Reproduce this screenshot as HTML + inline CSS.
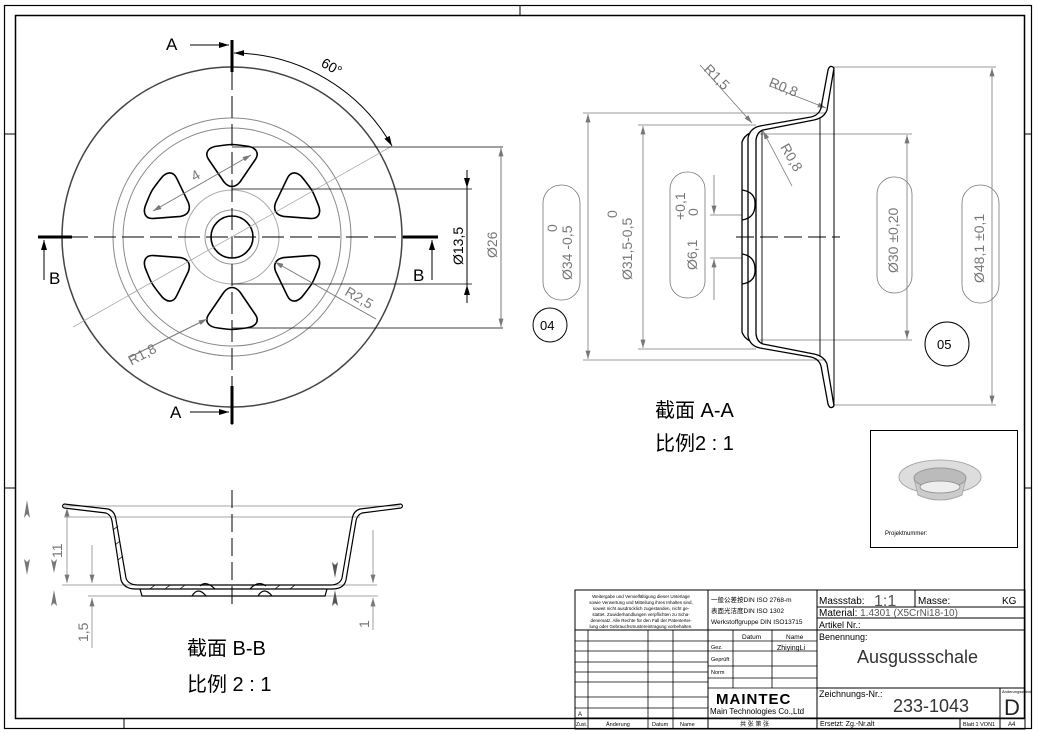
<!DOCTYPE html>
<html><head><meta charset="utf-8"><style>
html,body{margin:0;padding:0;background:#fff}
svg{display:block}
text{font-family:"Liberation Sans","Noto Sans CJK SC",sans-serif}
</style></head><body>
<svg width="1038" height="733" viewBox="0 0 1038 733" xmlns="http://www.w3.org/2000/svg">
<defs>
<marker id="ag" viewBox="0 0 10 6" refX="10" refY="3" markerWidth="12" markerHeight="5" orient="auto-start-reverse" markerUnits="userSpaceOnUse"><path d="M0,0 L10,3 L0,6 Z" fill="#777"/></marker>
<marker id="ak" viewBox="0 0 10 6" refX="10" refY="3" markerWidth="14" markerHeight="6" orient="auto-start-reverse" markerUnits="userSpaceOnUse"><path d="M0,0 L10,3 L0,6 Z" fill="#000"/></marker>
<path id="hole" d="M-14,-21 C0,-23 0,-23 14,-21 C24,-20 28,-14 23,-7 L8,15 C3,21 -3,21 -8,15 L-23,-7 C-28,-14 -24,-20 -14,-21 Z" fill="none" stroke="#000" stroke-width="1.6"/>
</defs>
<rect x="4.5" y="5.5" width="1027" height="723" fill="none" stroke="#000" stroke-width="1.2"/>
<rect x="15.5" y="15.5" width="1009" height="703" fill="none" stroke="#000" stroke-width="1.5"/>
<g stroke="#000" stroke-width="1"><line x1="4" y1="134" x2="15" y2="134"/><line x1="4" y1="488" x2="15" y2="488"/><line x1="1025" y1="134" x2="1032" y2="134"/><line x1="1025" y1="488" x2="1032" y2="488"/><line x1="124" y1="718" x2="124" y2="729"/><line x1="520" y1="5" x2="520" y2="15"/></g>

<g fill="none">
<circle cx="232" cy="237" r="170" stroke="#444" stroke-width="1.5"/>
<circle cx="232" cy="237" r="119" stroke="#888" stroke-width="1"/>
<circle cx="232" cy="237" r="109" stroke="#888" stroke-width="1"/>
<circle cx="232" cy="237" r="47" stroke="#aaa" stroke-width="1"/>
<circle cx="232" cy="237" r="27" stroke="#999" stroke-width="1"/>
<circle cx="232" cy="237" r="21" stroke="#000" stroke-width="1.6"/>
<g transform="translate(232,237)">
<use href="#hole" transform="translate(0,-70)"/>
<use href="#hole" transform="rotate(60) translate(0,-70)"/>
<use href="#hole" transform="rotate(120) translate(0,-70)"/>
<use href="#hole" transform="rotate(180) translate(0,-70)"/>
<use href="#hole" transform="rotate(240) translate(0,-70)"/>
<use href="#hole" transform="rotate(300) translate(0,-70)"/>
</g>
<line x1="38" y1="237" x2="438" y2="237" stroke="#000" stroke-width="1" stroke-dasharray="22,6"/>
<line x1="232" y1="40" x2="232" y2="425" stroke="#000" stroke-width="1" stroke-dasharray="22,6"/>
<g stroke="#000" stroke-width="3"><line x1="232" y1="40" x2="232" y2="72"/><line x1="232" y1="386" x2="232" y2="424"/><line x1="38" y1="237" x2="72" y2="237"/><line x1="403" y1="237" x2="438" y2="237"/></g>
<g stroke="#000" stroke-width="1"><line x1="190" y1="45" x2="229" y2="45" marker-end="url(#ak)"/><line x1="190" y1="412" x2="229" y2="412" marker-end="url(#ak)"/><line x1="44" y1="280" x2="44" y2="240" marker-end="url(#ak)"/><line x1="432" y1="280" x2="432" y2="240" marker-end="url(#ak)"/></g>
<path d="M234,53 A184,184 0 0 1 392,146" stroke="#000" stroke-width="1" marker-start="url(#ak)" marker-end="url(#ak)"/>
<line x1="73" y1="327" x2="392" y2="146" stroke="#aaa" stroke-width="0.8"/>
<line x1="153" y1="211" x2="251" y2="155" stroke="#777" stroke-width="1" marker-start="url(#ag)" marker-end="url(#ag)"/>
<line x1="130" y1="357" x2="207" y2="319" stroke="#777" stroke-width="1" marker-end="url(#ag)"/>
<line x1="376" y1="319" x2="275" y2="262" stroke="#777" stroke-width="1" marker-end="url(#ag)"/>
<g stroke="#000" stroke-width="0.8"><line x1="232" y1="147" x2="503" y2="147"/><line x1="232" y1="328" x2="503" y2="328"/><line x1="232" y1="189" x2="472" y2="189"/><line x1="232" y1="284" x2="472" y2="284"/></g>
<line x1="467" y1="170" x2="467" y2="303" stroke="#000" stroke-width="1"/>
<line x1="467" y1="170" x2="467" y2="188" stroke="#000" marker-end="url(#ak)"/>
<line x1="467" y1="303" x2="467" y2="285" stroke="#000" marker-end="url(#ak)"/>
<line x1="501" y1="148" x2="501" y2="327" stroke="#777" stroke-width="1" marker-start="url(#ag)" marker-end="url(#ag)"/>
</g>
<g font-size="17" fill="#000"><text x="166" y="50">A</text><text x="170" y="418">A</text><text x="49" y="284">B</text><text x="413" y="281">B</text></g>
<text x="320" y="70" font-size="14" transform="rotate(30 328 68)">60°</text>
<text x="192" y="180" font-size="14" fill="#777" transform="rotate(-30 196 176)">4</text>
<text x="126" y="360" font-size="14" fill="#777" transform="rotate(-28 140 352)">R1,8</text>
<text x="344" y="302" font-size="14" fill="#777" transform="rotate(30 358 298)">R2,5</text>
<text font-size="14" fill="#000" transform="translate(463,265) rotate(-90)">Ø13,5</text>
<text font-size="14" fill="#777" transform="translate(497,258) rotate(-90)">Ø26</text>

<g fill="none">
<g stroke="#888" stroke-width="0.8">
<line x1="64" y1="506" x2="400" y2="506"/><line x1="64" y1="517" x2="360" y2="517"/><line x1="62" y1="585" x2="377" y2="585"/><line x1="88" y1="596" x2="378" y2="596"/>
<line x1="67" y1="508" x2="67" y2="583" marker-start="url(#ag)" marker-end="url(#ag)"/>
<line x1="92" y1="545" x2="92" y2="583" marker-end="url(#ag)"/><line x1="92" y1="648" x2="92" y2="598" marker-end="url(#ag)"/>
<line x1="373" y1="530" x2="373" y2="583" marker-end="url(#ag)"/><line x1="373" y1="630" x2="373" y2="598" marker-end="url(#ag)"/>
</g>
<g fill="#777" stroke="none">
<path d="M27,500 L24,518 L27,514 L30,518 Z"/><path d="M27,575 L24,559 L27,562 L30,559 Z"/>
<path d="M54,573 L51,559 L54,562 L57,559 Z"/><path d="M54,590 L51,606 L54,603 L57,606 Z"/>
<path d="M335,578 L332,562 L335,565 L338,562 Z" fill="#555"/><path d="M335,590 L332,606 L335,603 L338,606 Z" fill="#555"/>
</g>
<path d="M64,504 L108,509 Q115,511 116,520 L126,578 Q128,585 138,585 L330,585 Q340,585 342,578 L352,520 Q353,511 360,509 L401,504" stroke="#000" stroke-width="1.2"/>
<path d="M64,508 L106,513 Q111,515 112,521 L121,580 Q124,589 136,589 L332,589 Q344,589 346,580 L356,521 Q357,515 362,513 L401,508" stroke="#000" stroke-width="1.2"/>
<path d="M64,504 Q61,506 64,508 M401,504 Q404,506 401,508" stroke="#000" stroke-width="1.2"/>
<g stroke="#000" stroke-width="0.8"><line x1="113" y1="530" x2="118" y2="526"/><line x1="115" y1="545" x2="120" y2="541"/><line x1="118" y1="560" x2="123" y2="556"/><line x1="150" y1="589" x2="155" y2="585"/><line x1="165" y1="589" x2="170" y2="585"/><line x1="180" y1="589" x2="185" y2="585"/><line x1="275" y1="589" x2="280" y2="585"/><line x1="290" y1="589" x2="295" y2="585"/></g>
<path d="M140,589 L142,596 L325,596 L327,589" stroke="#000" stroke-width="1.2"/>
<path d="M192,596 Q198,586 206,596 M258,596 Q264,586 272,596 M200,586 Q206,580 215,589 M250,589 Q258,580 266,586" stroke="#000" stroke-width="1.2"/>
<line x1="232" y1="490" x2="232" y2="610" stroke="#000" stroke-width="1" stroke-dasharray="18,6"/>
</g>
<text font-size="14" fill="#777" transform="translate(62,558) rotate(-90)">11</text>
<text font-size="14" fill="#777" transform="translate(88,642) rotate(-90)">1,5</text>
<text font-size="14" fill="#777" transform="translate(369,628) rotate(-90)">1</text>
<text x="187" y="655" font-size="20" fill="#000">截面 B-B</text>
<text x="187" y="691" font-size="20" fill="#000">比例 2 : 1</text>

<g fill="none">
<g stroke="#777" stroke-width="0.8">
<line x1="583" y1="113" x2="826" y2="113"/><line x1="583" y1="360" x2="826" y2="360"/>
<line x1="638" y1="125" x2="756" y2="125"/><line x1="638" y1="349" x2="756" y2="349"/>
<line x1="710" y1="215" x2="742" y2="215"/><line x1="710" y1="258" x2="742" y2="258"/>
<line x1="760" y1="134" x2="912" y2="134"/><line x1="760" y1="340" x2="912" y2="340"/>
<line x1="834" y1="67" x2="996" y2="67"/><line x1="834" y1="405" x2="996" y2="405"/>
<line x1="588" y1="114" x2="588" y2="359" marker-start="url(#ag)" marker-end="url(#ag)"/>
<line x1="643" y1="126" x2="643" y2="348" marker-start="url(#ag)" marker-end="url(#ag)"/>
<line x1="714" y1="175" x2="714" y2="214" marker-end="url(#ag)"/><line x1="714" y1="300" x2="714" y2="259" marker-end="url(#ag)"/>
<line x1="907" y1="135" x2="907" y2="339" marker-start="url(#ag)" marker-end="url(#ag)"/>
<line x1="992" y1="68" x2="992" y2="404" marker-start="url(#ag)" marker-end="url(#ag)"/>
<line x1="700" y1="65" x2="752" y2="123" marker-end="url(#ag)"/>
<line x1="770" y1="86" x2="826" y2="108" marker-end="url(#ag)"/>
<line x1="792" y1="186" x2="763" y2="131" marker-end="url(#ag)"/>
<rect x="543" y="185" width="37" height="115" rx="18"/>
<rect x="670" y="172" width="35" height="126" rx="17"/>
<rect x="877" y="177" width="35" height="116" rx="17"/>
<rect x="962" y="185" width="37" height="118" rx="18"/>
</g>
<g id="halfA" stroke="#000" stroke-width="1.3">
<path d="M834,68 Q830,64 828,70 L821,108 Q819,115 811,117 L760,126 Q750,128 748,138 L748,237"/>
<path d="M834,68 L827,110 Q824,118 814,120 L763,130 Q757,132 756,140 L756,237"/>
<path d="M742,237 L742,142 Q744,136 750,133"/>
<path d="M742,190 Q756,192 755,205 Q755,218 742,220"/>
<line x1="762" y1="130" x2="762" y2="237" stroke-width="0.9"/>
<line x1="820" y1="118" x2="820" y2="237" stroke-width="0.9"/>
<line x1="834" y1="68" x2="834" y2="237" stroke-width="1"/>
</g>
<use href="#halfA" transform="translate(0,474) scale(1,-1)"/>
<line x1="736" y1="237" x2="840" y2="237" stroke="#000" stroke-width="1" stroke-dasharray="18,6"/>
<circle cx="550" cy="325" r="17" stroke="#000" stroke-width="1"/>
<circle cx="947" cy="344" r="22" stroke="#000" stroke-width="1"/>
</g>
<g font-size="14" fill="#777">
<text transform="translate(703,70) rotate(45)">R1,5</text>
<text transform="translate(768,86) rotate(22)">R0,8</text>
<text transform="translate(780,147) rotate(60)">R0,8</text>
<text transform="translate(572,280) rotate(-90)">Ø34 -0,5</text>
<text transform="translate(557,232) rotate(-90)">0</text>
<text transform="translate(632,280) rotate(-90)">Ø31,5-0,5</text>
<text transform="translate(617,218) rotate(-90)">0</text>
<text transform="translate(697,270) rotate(-90)">Ø6,1</text>
<text transform="translate(685,220) rotate(-90)">+0,1</text>
<text transform="translate(698,216) rotate(-90)">0</text>
<text transform="translate(898,273) rotate(-90)">Ø30 ±0,20</text>
<text transform="translate(984,283) rotate(-90)">Ø48,1 ±0,1</text>
</g>
<text x="540" y="330" font-size="13" fill="#000">04</text>
<text x="937" y="349" font-size="13" fill="#000">05</text>
<text x="655" y="417" font-size="20" fill="#000">截面 A-A</text>
<text x="655" y="450" font-size="20" fill="#000">比例2 : 1</text>

<rect x="870.5" y="430.5" width="147" height="117" fill="none" stroke="#000" stroke-width="1"/>
<ellipse cx="940" cy="477" rx="41" ry="17" fill="#ddd" stroke="#aaa"/>
<path d="M914,478 L918,495 Q940,505 962,495 L966,478 Z" fill="#ccc" stroke="#aaa"/>
<ellipse cx="940" cy="478" rx="26" ry="10" fill="#bbb" stroke="#999"/>
<ellipse cx="940" cy="487" rx="20" ry="6" fill="#eee" stroke="#999"/>
<text x="885" y="535" font-size="6" fill="#000">Projektnummer:</text>

<g fill="none" stroke="#000" stroke-width="1">
<rect x="575" y="590" width="450" height="139"/>
<line x1="575" y1="630" x2="817" y2="630"/>
<line x1="708" y1="590" x2="708" y2="729"/>
<line x1="817" y1="590" x2="817" y2="729"/>
<line x1="817" y1="607" x2="1025" y2="607"/><line x1="817" y1="618" x2="1025" y2="618"/><line x1="817" y1="630" x2="1025" y2="630"/>
<line x1="915" y1="590" x2="915" y2="607"/>
<line x1="817" y1="688" x2="1025" y2="688"/><line x1="575" y1="718" x2="1025" y2="718"/>
<line x1="1000" y1="688" x2="1000" y2="729"/><line x1="960" y1="718" x2="960" y2="729"/>
<g stroke-width="0.8">
<line x1="575" y1="641" x2="817" y2="641"/><line x1="575" y1="651" x2="817" y2="651"/><line x1="575" y1="662" x2="708" y2="662"/><line x1="708" y1="666" x2="817" y2="666"/><line x1="575" y1="672" x2="708" y2="672"/><line x1="708" y1="678" x2="817" y2="678"/><line x1="575" y1="682" x2="708" y2="682"/><line x1="575" y1="697" x2="708" y2="697"/><line x1="575" y1="708" x2="708" y2="708"/><line x1="708" y1="688" x2="817" y2="688"/>
<line x1="588" y1="630" x2="588" y2="729"/><line x1="648" y1="630" x2="648" y2="729"/><line x1="673" y1="630" x2="673" y2="729"/>
<line x1="733" y1="630" x2="733" y2="688"/><line x1="772" y1="630" x2="772" y2="688"/>
</g>
</g>
<g fill="#000" font-size="4.5" text-anchor="middle">
<text x="641" y="598">Weitergabe und Vervielfältigung dieser Unterlage</text>
<text x="641" y="604">sowie Verwertung und Mitteilung ihres Inhaltes sind,</text>
<text x="641" y="610">soweit nicht ausdrücklich zugestanden, nicht ge-</text>
<text x="641" y="616">stattet. Zuwiderhandlungen verpflichten zu Scha-</text>
<text x="641" y="622">denersatz. Alle Rechte für den Fall der Patentertei-</text>
<text x="641" y="628">lung oder Gebrauchsmustereintragung vorbehalten.</text>
</g>
<g fill="#000" font-size="6.5">
<text x="711" y="602">一般公差按DIN ISO 2768-m</text>
<text x="711" y="613">表面光洁度DIN ISO 1302</text>
<text x="711" y="624">Werkstoffgruppe DIN ISO13715</text>
<text x="742" y="639">Datum</text><text x="786" y="639">Name</text>
<text x="711" y="649" font-size="5.5">Gez.</text><text x="711" y="661" font-size="5.5">Geprüft</text><text x="711" y="674" font-size="5.5">Norm</text>
<text x="777" y="650" font-family="Liberation Mono" font-size="7">ZhiyingLi</text>
<text x="578" y="716" font-size="6">A</text>
<text x="576" y="726" font-size="5">Zust.</text><text x="606" y="726" font-size="5.5">Änderung</text><text x="652" y="726" font-size="5.5">Datum</text><text x="680" y="726" font-size="5.5">Name</text>
<text x="740" y="726" font-size="6">共 张 第 张</text>
<text x="820" y="726" font-size="7">Ersetzt: Zg.-Nr.alt</text>
<text x="963" y="726" font-size="5.5">Blatt 1 VON1</text><text x="1008" y="726" font-size="6">A4</text>
</g>
<text x="716" y="704" font-size="15" font-weight="bold" fill="#000" letter-spacing="1">MAINTEC</text>
<text x="710" y="714" font-size="8" fill="#000">Main Technologies Co.,Ltd</text>
<g fill="#000">
<text x="819" y="604" font-size="10">Massstab:</text>
<text x="874" y="606" font-size="16" fill="#555">1:1</text>
<text x="918" y="604" font-size="10">Masse:</text><text x="1002" y="604" font-size="10">KG</text>
<text x="819" y="616" font-size="10">Material: <tspan fill="#555">1.4301 (X5CrNi18-10)</tspan></text>
<text x="819" y="628" font-size="9">Artikel Nr.:</text>
<text x="819" y="640" font-size="9">Benennung:</text>
<text x="857" y="663" font-size="18" fill="#333">Ausgussschale</text>
<text x="819" y="697" font-size="9">Zeichnungs-Nr.:</text>
<text x="893" y="712" font-size="18" fill="#333">233-1043</text>
<text x="1002" y="693" font-size="4">Änderungsstand</text>
<text x="1004" y="715" font-size="22" fill="#222">D</text>
</g>
</svg>
</body></html>
